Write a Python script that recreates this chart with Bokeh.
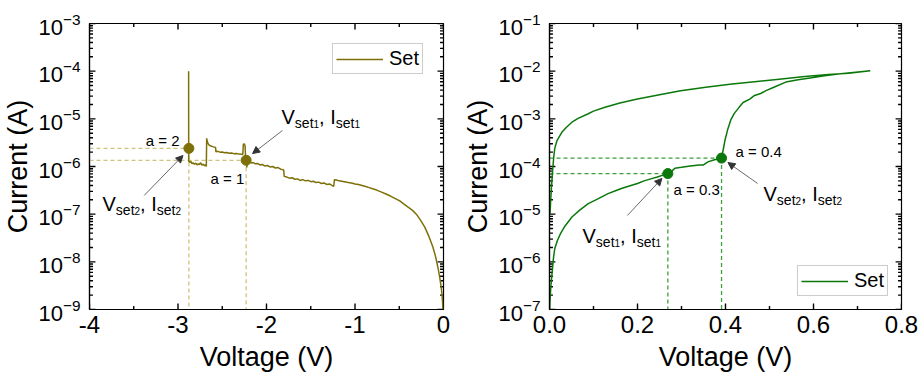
import math
import numpy as np
from bokeh.plotting import figure
from bokeh.layouts import row
from bokeh.models import (Range1d, Label, Arrow, NormalHead, BasicTicker, LogTicker,
                          NumeralTickFormatter)
from bokeh.embed import file_html
from bokeh.resources import INLINE

FONT = "Liberation Sans"

# ---------------- data: panel (a) ----------------
v_a = [-2.880, -2.879, -2.868, -2.855, -2.842, -2.830, -2.815, -2.800, -2.786, -2.772,
       -2.758, -2.744, -2.730, -2.716, -2.700, -2.690, -2.680, -2.676, -2.668, -2.655,
       -2.640, -2.620, -2.600, -2.585, -2.575, -2.572, -2.550, -2.525, -2.500, -2.475,
       -2.450, -2.420, -2.395, -2.370, -2.340, -2.310, -2.285, -2.268, -2.262, -2.250,
       -2.242, -2.236, -2.228, -2.222, -2.216, -2.205, -2.190, -2.170, -2.150, -2.125,
       -2.100, -2.075, -2.050, -2.020, -1.990, -1.960, -1.930, -1.900, -1.870, -1.840,
       -1.815, -1.805, -1.800, -1.770, -1.740, -1.710, -1.680, -1.650, -1.620, -1.590,
       -1.560, -1.530, -1.500, -1.470, -1.440, -1.410, -1.380, -1.350, -1.320, -1.290,
       -1.260, -1.240, -1.232, -1.210, -1.180, -1.150, -1.120, -1.090, -1.060, -1.030,
       -1.000, -0.960, -0.920, -0.880, -0.840, -0.800, -0.756, -0.700, -0.650, -0.600,
       -0.550, -0.494, -0.450, -0.400, -0.350, -0.307, -0.260, -0.213, -0.170, -0.120,
       -0.090, -0.064, -0.045, -0.026, -0.012, -0.004]
i_a = [1.0e-4, 1.30e-6, 1.22e-6, 1.28e-6, 1.15e-6, 1.20e-6, 1.12e-6, 1.18e-6, 1.08e-6, 1.14e-6,
       1.10e-6, 1.20e-6, 1.06e-6, 1.12e-6, 1.04e-6, 1.08e-6, 1.00e-6, 3.9e-6, 3.3e-6, 2.9e-6,
       2.75e-6, 2.65e-6, 2.58e-6, 2.55e-6, 2.48e-6, 2.05e-6, 2.08e-6, 2.00e-6, 2.02e-6, 1.95e-6,
       1.97e-6, 1.90e-6, 1.92e-6, 1.86e-6, 1.88e-6, 1.82e-6, 1.80e-6, 1.78e-6, 2.9e-6, 3.0e-6,
       2.7e-6, 1.45e-6, 1.35e-6, 0.95e-6, 1.30e-6, 1.22e-6, 1.26e-6, 1.18e-6, 1.21e-6, 1.14e-6,
       1.16e-6, 1.08e-6, 1.10e-6, 1.03e-6, 1.05e-6, 0.98e-6, 1.00e-6, 0.93e-6, 0.95e-6, 0.88e-6,
       0.86e-6, 0.83e-6, 0.62e-6, 0.60e-6, 0.57e-6, 0.58e-6, 0.54e-6, 0.55e-6, 0.51e-6, 0.53e-6,
       0.50e-6, 0.51e-6, 0.48e-6, 0.49e-6, 0.46e-6, 0.47e-6, 0.44e-6, 0.45e-6, 0.42e-6, 0.43e-6,
       0.40e-6, 0.385e-6, 0.53e-6, 0.52e-6, 0.50e-6, 0.49e-6, 0.48e-6, 0.465e-6, 0.455e-6, 0.445e-6,
       0.43e-6, 0.42e-6, 0.40e-6, 0.38e-6, 0.36e-6, 0.34e-6, 0.32e-6, 0.29e-6, 0.265e-6, 0.24e-6,
       0.215e-6, 0.19e-6, 0.165e-6, 0.14e-6, 0.12e-6, 0.10e-6, 0.075e-6, 0.054e-6, 0.036e-6, 0.0205e-6,
       0.013e-6, 7.8e-9, 5.0e-9, 3.0e-9, 1.6e-9, 8e-10]
a_vals_a = ["a = 2", "a = 1"]
vset_a = [-2.877, -2.230]
iset_a = [2.4e-6, 1.35e-6]

# ---------------- data: panel (b) ----------------
v_b = [0.000, 0.003, 0.006, 0.009, 0.012, 0.018, 0.025, 0.035, 0.051, 0.068,
       0.088, 0.110, 0.133, 0.150, 0.165, 0.185, 0.200, 0.215, 0.230, 0.245,
       0.258, 0.269, 0.278, 0.285, 0.300, 0.320, 0.340, 0.350, 0.360, 0.375,
       0.391, 0.395, 0.399, 0.405, 0.412, 0.420, 0.430, 0.440, 0.455, 0.466,
       0.480, 0.492, 0.510, 0.537, 0.565, 0.596, 0.625, 0.656, 0.690, 0.729,
       0.680, 0.634, 0.580, 0.522, 0.466, 0.410, 0.355, 0.298, 0.250, 0.200,
       0.160, 0.126, 0.100, 0.088, 0.065, 0.051, 0.038, 0.028, 0.017, 0.012,
       0.0097, 0.007, 0.0045, 0.0025, 0.0012]
i_b = [1.0e-7, 3e-7, 6e-7, 1.2e-6, 1.9e-6, 2.8e-6, 3.9e-6, 5.6e-6, 8.7e-6, 1.2e-5,
       1.66e-5, 2.1e-5, 2.7e-5, 3.1e-5, 3.5e-5, 4.0e-5, 4.4e-5, 5.0e-5, 5.5e-5, 6.0e-5,
       6.6e-5, 7.1e-5, 8.0e-5, 9.2e-5, 9.6e-5, 1.03e-4, 1.07e-4, 1.08e-4, 1.25e-4, 1.38e-4,
       1.5e-4, 2.3e-4, 3.6e-4, 6.0e-4, 9.5e-4, 1.3e-3, 1.7e-3, 2.2e-3, 2.6e-3, 3.1e-3,
       3.4e-3, 3.9e-3, 4.6e-3, 5.9e-3, 6.6e-3, 7.3e-3, 8.0e-3, 8.7e-3, 9.4e-3, 1.02e-2,
       9.0e-3, 8.5e-3, 7.7e-3, 6.8e-3, 6.0e-3, 5.3e-3, 4.6e-3, 3.9e-3, 3.2e-3, 2.6e-3,
       2.15e-3, 1.75e-3, 1.45e-3, 1.28e-3, 1.02e-3, 8.5e-4, 6.6e-4, 5.2e-4, 3.5e-4, 2.4e-4,
       1.6e-4, 8e-5, 3.7e-5, 1.8e-5, 1e-5]
a_vals_b = ["a = 0.3", "a = 0.4"]
vset_b = [0.269, 0.391]
iset_b = [7.1e-5, 1.5e-4]

XR_A = (-4, 0)
YR_A = (1e-9, 1e-3)
XSTEP_A = 1.0
XR_B = (0, 0.8)
YR_B = (1e-7, 1e-1)
XSTEP_B = 0.2

OLIVE = "#7d7008"
OLIVE_DASH = "#cfc27c"
GREEN = "#0b780b"
GREEN_DASH = "#3c9f3c"

CHAR_W = {"V": 0.667, "s": 0.5, "e": 0.556, "t": 0.278, ",": 0.278, " ": 0.278,
          "I": 0.278, "1": 0.556, "2": 0.556}

W_A, W_B, H = 460, 458, 380
LEFT_A, LEFT_B, RIGHT, TOP, BOTTOM = 88, 84, 17, 23, 71
MAJOR_LEN, MINOR_LEN = 6, 3.5


def style_axis(ax, tick_size):
    ax.axis_line_color = "black"
    ax.axis_line_width = 1.2
    ax.major_tick_in = 0
    ax.major_tick_out = 0
    ax.minor_tick_in = 0
    ax.minor_tick_out = 0
    ax.major_tick_line_color = None
    ax.minor_tick_line_color = None
    ax.major_label_text_font = FONT
    ax.major_label_text_font_size = tick_size
    ax.major_label_text_color = "black"
    ax.axis_label_text_font = FONT
    ax.axis_label_text_font_size = "27px"
    ax.axis_label_text_font_style = "normal"
    ax.axis_label_text_color = "black"


def make_fig(width, xr, yr, left, xstep, xfmt):
    p = figure(width=width, height=H, x_range=Range1d(*xr), y_range=Range1d(*yr),
               y_axis_type="log", output_backend="svg", toolbar_location=None,
               min_border_left=left, min_border_right=RIGHT, min_border_top=TOP,
               min_border_bottom=BOTTOM)
    p.grid.visible = False
    p.outline_line_color = "black"
    p.outline_line_width = 1.2
    p.xaxis.ticker = BasicTicker(desired_num_ticks=5, num_minor_ticks=2)
    p.yaxis.ticker = LogTicker(desired_num_ticks=7, num_minor_ticks=10)
    p.xaxis.formatter = NumeralTickFormatter(format=xfmt)
    p.xaxis.axis_label = "Voltage (V)"
    p.yaxis.axis_label = "Current (A)"
    style_axis(p.xaxis[0], "24px")
    style_axis(p.yaxis[0], "22px")
    p.xaxis.major_label_standoff = 6
    p.xaxis.axis_label_standoff = 6
    p.yaxis.major_label_standoff = 9
    p.yaxis.axis_label_standoff = 2

    # inward ticks on all four sides, derived from the axis ranges
    fw = width - left - RIGHT
    fh = H - TOP - BOTTOM
    x0, x1 = xr
    y0, y1 = yr
    dec = math.log10(y1 / y0)
    majx = [float(v) for v in np.arange(x0, x1 + xstep / 2, xstep)]
    minx = [v + xstep / 2 for v in majx[:-1]]
    k0, k1 = int(round(math.log10(y0))), int(round(math.log10(y1)))
    majy = [10.0 ** k for k in range(k0, k1 + 1)]
    miny = [m * 10.0 ** k for k in range(k0, k1) for m in range(2, 10)]
    xs0, ys0, xs1, ys1 = [], [], [], []
    for ticks, L in ((majx, MAJOR_LEN), (minx, MINOR_LEN)):
        f = 10 ** (L / fh * dec)
        for t in ticks:
            xs0 += [t, t]; xs1 += [t, t]
            ys0 += [y0, y1]; ys1 += [y0 * f, y1 / f]
    for ticks, L in ((majy, MAJOR_LEN), (miny, MINOR_LEN)):
        d = L / fw * (x1 - x0)
        for t in ticks:
            xs0 += [x0, x1]; xs1 += [x0 + d, x1 - d]
            ys0 += [t, t]; ys1 += [t, t]
    p.segment(x0=xs0, y0=ys0, x1=xs1, y1=ys1, line_color="black", line_width=1.4)
    return p


def screen_label(p, x, y, text, size, align="left"):
    p.add_layout(Label(x=x, y=y, x_units="screen", y_units="screen", text=text,
                       text_font=FONT, text_font_size=f"{size}px", text_color="black",
                       text_align=align, text_baseline="alphabetic"))


def vi_label(p, x, y, idx):
    pieces = [("V", 20, 0), ("set", 14, -6), (idx, 10, -7),
              (", I", 20, 0), ("set", 14, -6), (idx, 10, -7)]
    cx = x
    for t, s, dy in pieces:
        screen_label(p, cx, y + dy, t, s)
        cx += sum(CHAR_W.get(c, 0.55) for c in t) * s


def arrow(p, xs, ys, xe, ye):
    p.add_layout(Arrow(x_start=xs, y_start=ys, x_end=xe, y_end=ye,
                       line_color="#444444", line_width=0.8,
                       end=NormalHead(size=7, fill_color="#333333", line_color="#333333")))


def legend_style(p, loc, margin):
    lg = p.legend[0]
    lg.location = loc
    lg.margin = margin
    lg.label_text_font = FONT
    lg.label_text_font_size = "20px"
    lg.label_text_color = "black"
    lg.glyph_width = 47
    lg.glyph_height = 20
    lg.label_standoff = 6
    lg.padding = 3
    lg.spacing = 0
    lg.border_line_color = "#999999"
    lg.border_line_width = 1
    lg.background_fill_alpha = 1


# ---------------- panel (a) ----------------
pa = make_fig(W_A, XR_A, YR_A, LEFT_A, XSTEP_A, "0")
for vs, isv in zip(vset_a, iset_a):
    pa.line([XR_A[0], vs], [isv, isv], line_color=OLIVE_DASH, line_dash="4 3", line_width=1.3)
    pa.line([vs, vs], [isv, YR_A[0]], line_color=OLIVE_DASH, line_dash="4 3", line_width=1.3)
pa.line(v_a, i_a, line_color=OLIVE, line_width=1.5, legend_label="Set")
pa.scatter(vset_a, iset_a, size=10, fill_color=OLIVE, line_color=OLIVE)
legend_style(pa, "top_right", 20)
screen_label(pa, 90, 169, a_vals_a[0], 15, align="right")
screen_label(pa, 121, 131, a_vals_a[1], 15)
vi_label(pa, 192, 193, "1")
vi_label(pa, 13, 106, "2")
arrow(pa, -3.382, 2.47e-7, -2.944, 1.70e-6)
arrow(pa, -1.820, 5.69e-6, -2.157, 1.87e-6)
screen_label(pa, -76, -54, "(a)", 27)

# ---------------- panel (b) ----------------
pb = make_fig(W_B, XR_B, YR_B, LEFT_B, XSTEP_B, "0.0")
for vs, isv in zip(vset_b, iset_b):
    pb.line([XR_B[0], vs], [isv, isv], line_color=GREEN_DASH, line_dash="4 3", line_width=1.3)
    pb.line([vs, vs], [isv, YR_B[0]], line_color=GREEN_DASH, line_dash="4 3", line_width=1.3)
pb.line(v_b, i_b, line_color=GREEN, line_width=1.5, legend_label="Set")
pb.scatter(vset_b, iset_b, size=10, fill_color=GREEN, line_color=GREEN)
legend_style(pb, "bottom_right", 13)
screen_label(pb, 124, 120, a_vals_b[0], 15)
screen_label(pb, 186, 158, a_vals_b[1], 15)
vi_label(pb, 33, 74, "1")
vi_label(pb, 214, 116, "2")
arrow(pb, 0.177, 9.37e-6, 0.2555, 5.61e-5)
arrow(pb, 0.473, 4.40e-5, 0.4056, 1.21e-4)
screen_label(pb, -79, -54, "(b)", 27)

layout = row(pa, pb)
open("out.html", "w").write(file_html(layout, INLINE))
